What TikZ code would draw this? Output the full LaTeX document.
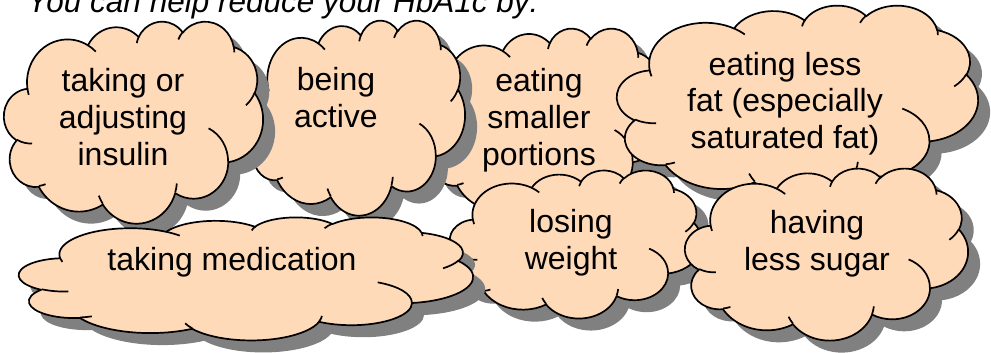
\documentclass[tikz,border=0pt]{standalone}
\usepackage{fontspec}
\setmainfont{Liberation Sans}
\definecolor{peach}{HTML}{FFDAB9}
\definecolor{shade}{HTML}{808080}
\tikzset{
  cloudbody/.style={fill=peach, draw=black, line width=1.7pt, line join=round},
  cloudcrease/.style={draw=black, line width=1.7pt},
  cloudshadow/.style={fill=shade},
  cloudtext/.style={anchor=base, align=center, inner sep=0pt, font=\fontsize{32}{36.7}\selectfont},
  titletext/.style={anchor=base west, inner sep=0pt, font=\fontsize{31.5}{36}\selectfont\itshape},
}
% convert DrawingML visual arc angles into parametric ones
\newcommand\ooang[5]{%
  \pgfmathsetmacro\ooTa{atan2((#2)*sin(#4),(#3)*cos(#4))}%
  \pgfmathsetmacro\ooTb{atan2((#2)*sin((#4)+(#5)),(#3)*cos((#4)+(#5)))}%
  \pgfmathsetmacro\ooTd{mod(\ooTb-\ooTa+720,360)}%
  \expandafter\xdef\csname oos#1\endcsname{\ooTa}%
  \expandafter\xdef\csname ood#1\endcsname{\ooTd}%
}
\ooang{A}{67.53}{91.90}{-190.4875}{123.7805}
\ooang{B}{53.33}{72.67}{-144.1024}{89.9452}
\ooang{C}{43.65}{59.45}{-145.8079}{99.7230}
\ooang{D}{48.57}{65.95}{-130.9861}{117.2417}
\ooang{E}{53.33}{72.73}{-78.7089}{109.0269}
\ooang{F}{67.75}{92.20}{-46.2673}{130.2690}
\ooang{G}{57.85}{78.67}{0.6250}{114.0333}
\ooang{H}{67.52}{92.15}{22.4516}{115.1726}
\ooang{I}{77.20}{105.43}{66.2426}{75.7110}
\ooang{J}{43.60}{59.18}{-274.9421}{146.7356}
\ooang{K}{43.45}{59.45}{-246.8285}{152.5189}
\ooang{L}{43.45}{59.45}{86.7420}{26.4295}
\ooang{M}{43.60}{59.18}{73.6105}{11.4475}
\ooang{N}{67.52}{92.15}{137.6242}{14.0811}
\ooang{O}{67.52}{92.15}{6.4533}{15.9984}
\ooang{P}{57.85}{78.67}{-70.2924}{70.9174}
\ooang{Q}{53.33}{72.73}{30.3180}{27.7515}
\ooang{R}{48.57}{65.95}{-13.7443}{14.8589}
\ooang{S}{48.57}{65.95}{-149.1815}{18.1954}
\ooang{T}{43.65}{59.45}{-163.4943}{17.6864}
\ooang{U}{67.53}{91.90}{-66.7070}{12.3194}
\ooang{V}{67.53}{91.90}{157.6544}{11.8582}
\newcommand\ooarc[3]{arc[x radius=#1, y radius=#2, start angle=\csname oos#3\endcsname, delta angle=\csname ood#3\endcsname]}
\newcommand\cloudouter{(39.00,143.70)
  \ooarc{67.53}{91.90}{A} \ooarc{53.33}{72.67}{B} \ooarc{43.65}{59.45}{C}
  \ooarc{48.57}{65.95}{D} \ooarc{53.33}{72.73}{E} \ooarc{67.75}{92.20}{F}
  \ooarc{57.85}{78.67}{G} \ooarc{67.52}{92.15}{H} \ooarc{77.20}{105.43}{I}
  \ooarc{43.60}{59.18}{J} \ooarc{43.45}{59.45}{K} -- cycle}
\newcommand\cloudinner{
  (46.93,261.77) \ooarc{43.45}{59.45}{L}
  (69.28,348.99) \ooarc{43.60}{59.18}{M}
  (164.78,390.90) \ooarc{67.52}{92.15}{N}
  (288.27,347.51) \ooarc{67.52}{92.15}{O}
  (341.29,229.54) \ooarc{57.85}{78.67}{P}
  (417.98,153.54) \ooarc{53.33}{72.73}{Q}
  (383.24,54.26) \ooarc{48.57}{65.95}{R}
  (290.78,39.52) \ooarc{48.57}{65.95}{S}
  (221.41,47.20) \ooarc{43.65}{59.45}{T}
  (140.00,51.92) \ooarc{67.53}{91.90}{U}
  (41.27,157.89) \ooarc{67.53}{91.90}{V}}
\newcommand\drawcloud[4]{%
  \pgfmathsetmacro\cldx{(#3)/432}%
  \pgfmathsetmacro\cldy{-(#4)/432}%
  \begin{scope}[shift={(#1+12,#2+12)}, x={(\cldx pt,0pt)}, y={(0pt,\cldy pt)}]
    \path[cloudshadow] \cloudouter;
  \end{scope}
  \begin{scope}[shift={(#1,#2)}, x={(\cldx pt,0pt)}, y={(0pt,\cldy pt)}]
    \path[cloudbody] \cloudouter;
    \path[cloudcrease] \cloudinner;
  \end{scope}
}
\begin{document}
\begin{tikzpicture}[x=1pt, y=-1pt]
  \path[use as bounding box] (0,0) rectangle (991,353);
  \clip (0,0) rectangle (991,353);
  \node[titletext] (title) at (27,12.5) {You can help reduce your HbA1c by:};
  \drawcloud{425}{28}{240}{192}
  \node[cloudtext] (portions) at (539,165) {eating\\smaller\\portions};
  \drawcloud{248}{20}{217}{195}
  \node[cloudtext] (active) at (336,127.5) {being\\active};
  \drawcloud{4}{21}{259}{202}
  \node[cloudtext] (insulin) at (123,165) {taking or\\adjusting\\insulin};
  \drawcloud{617}{5}{361}{195}
  \node[cloudtext] (fat) at (785,148.5) {eating less\\fat (especially\\saturated fat)};
  \drawcloud{450}{170}{252}{148}
  \node[cloudtext] (weight) at (571,269) {losing\\weight};
  \drawcloud{19}{217}{454}{123}
  \node[cloudtext] (medication) at (232,270) {taking medication};
  \drawcloud{685}{168}{283}{172}
  \node[cloudtext] (sugar) at (817,270) {having\\less sugar};
\end{tikzpicture}
\end{document}
